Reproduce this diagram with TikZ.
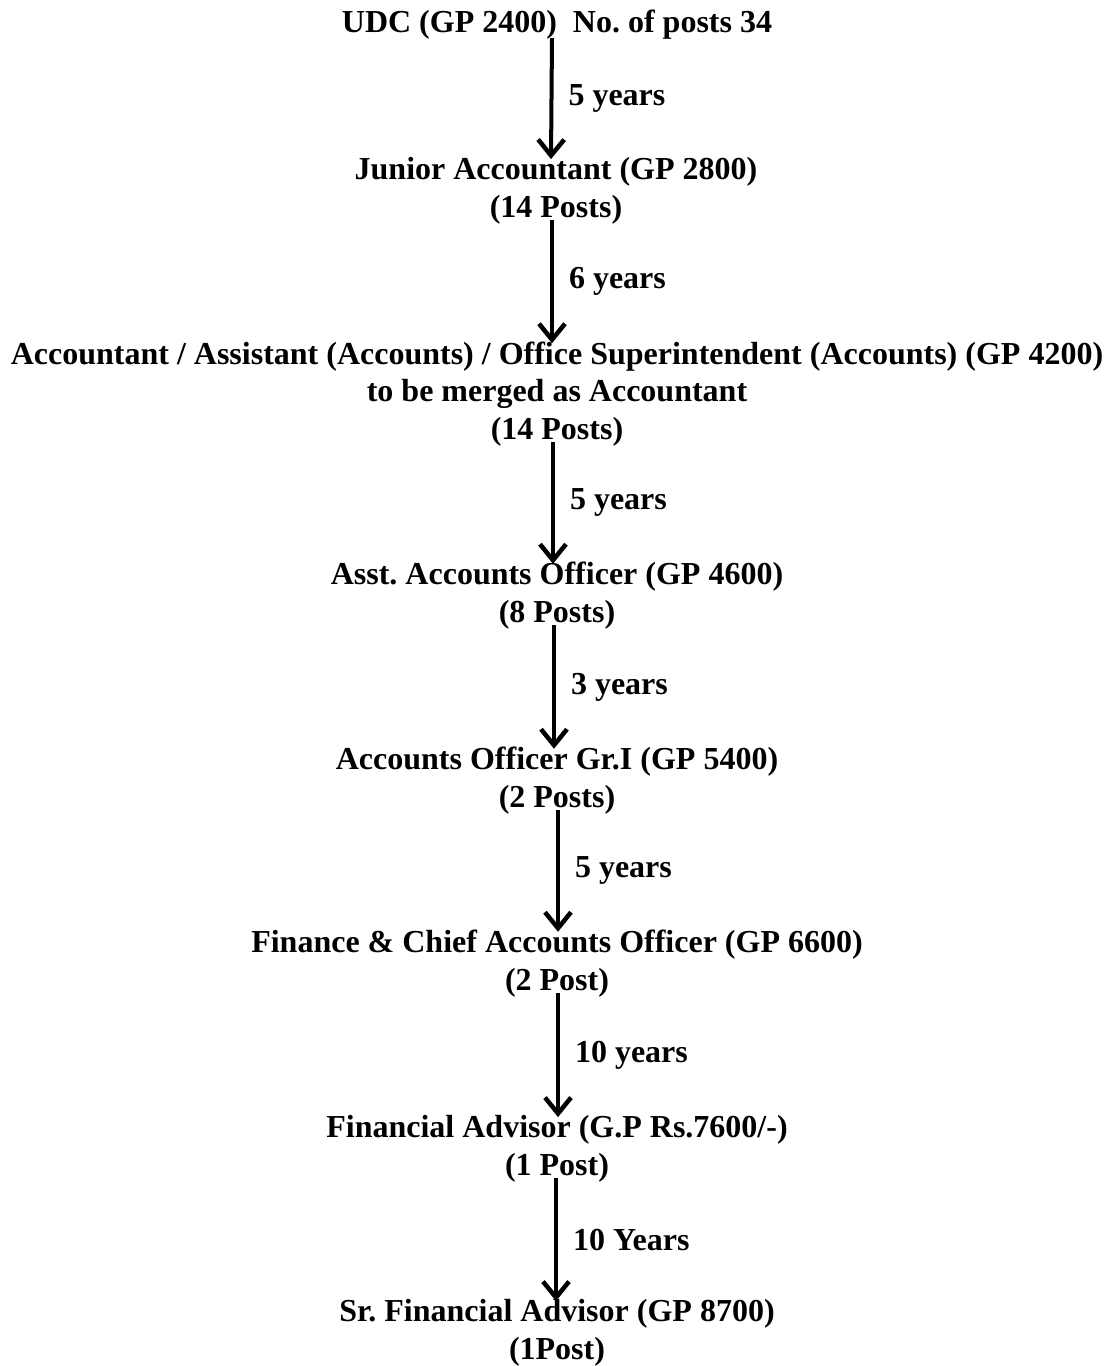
\documentclass[tikz,border=0pt]{standalone}
\usepackage{fontspec}
\setmainfont{Liberation Serif}
\usetikzlibrary{arrows.meta}
\frenchspacing
\begin{document}
\begin{tikzpicture}[x=1pt,y=-1pt,
  post/.style={anchor=base, align=center, inner sep=0pt, font=\fontsize{32}{37.5}\selectfont\bfseries\frenchspacing},
  arr/.style={line width=4pt, -{Straight Barb[length=16pt,width=26pt,line width=4.5pt]}},
  yrs/.style={midway, anchor=west, xshift=15pt, inner sep=0pt, font=\fontsize{32}{37.5}\selectfont\bfseries}]
\useasboundingbox (0,0) rectangle (1110,1366);
\node[post] (udc) at (557,32) {UDC (GP 2400)\ \ No. of posts 34};
\node[post] (ja) at (556,217) {Junior Accountant (GP 2800)\\(14 Posts)};
\node[post] (acc) at (557,439) {Accountant / Assistant (Accounts) / Office Superintendent (Accounts) (GP 4200)\\to be merged as Accountant\\(14 Posts)};
\node[post] (aao) at (557,622) {Asst. Accounts Officer (GP 4600)\\(8 Posts)};
\node[post] (ao) at (557,807) {Accounts Officer Gr.I (GP 5400)\\(2 Posts)};
\node[post] (fcao) at (557,990) {Finance \& Chief Accounts Officer (GP 6600)\\(2 Post)};
\node[post] (fa) at (557,1175) {Financial Advisor (G.P Rs.7600/-)\\(1 Post)};
\node[post] (sfa) at (557,1359) {Sr. Financial Advisor (GP 8700)\\(1Post)};
\draw[arr] ([xshift=-5pt,yshift=1pt]udc.south) -- ([xshift=-5pt,yshift=-2pt]ja.north) node[yrs] {5 years};
\draw[arr] ([xshift=-4pt,yshift=4pt]ja.south) -- ([xshift=-5pt,yshift=-2pt]acc.north) node[yrs] {6 years};
\draw[arr] ([xshift=-4pt,yshift=4pt]acc.south) -- ([xshift=-4pt,yshift=-2pt]aao.north) node[yrs] {5 years};
\draw[arr] ([xshift=-3pt,yshift=4pt]aao.south) -- ([xshift=-3pt,yshift=-2pt]ao.north) node[yrs] {3 years};
\draw[arr] ([xshift=1pt,yshift=4pt]ao.south) -- ([xshift=1pt,yshift=-2pt]fcao.north) node[yrs] {5 years};
\draw[arr] ([xshift=1pt,yshift=4pt]fcao.south) -- ([xshift=1pt,yshift=-2pt]fa.north) node[yrs] {10 years};
\draw[arr] ([xshift=-1pt,yshift=4pt]fa.south) -- ([xshift=-1pt,yshift=-2pt]sfa.north) node[yrs] {10 Years};
\end{tikzpicture}
\end{document}
